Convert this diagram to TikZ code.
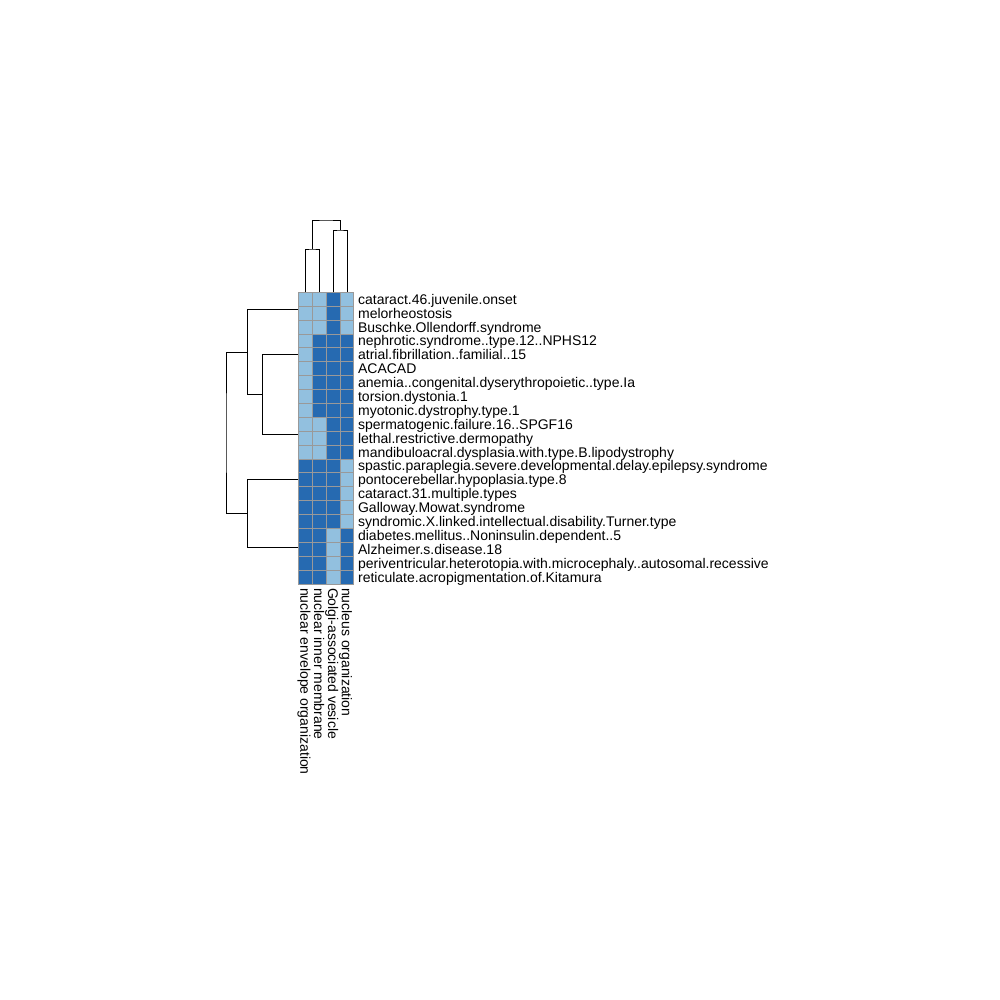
\documentclass[tikz,border=0pt]{standalone}
\usepackage{fontspec}
\setmainfont{Liberation Sans}
\usetikzlibrary{calc}

\definecolor{cLt}{RGB}{146,192,223}
\definecolor{cDk}{RGB}{38,106,177}
\definecolor{cBd}{RGB}{153,153,153}

\tikzset{
  cellbox/.style={draw=cBd,line width=0.9pt},
  dendro/.style={draw=black,line width=0.9pt},
  rowlab/.style={anchor=base west,inner sep=0pt,font=\fontsize{14}{16}\selectfont},
  collab/.style={rowlab,rotate=-90}
}

\begin{document}
\begin{tikzpicture}[x=1pt,y=-1pt]
\useasboundingbox (0,0) rectangle (1000,1000);
%heat map cells and row labels
\foreach \ca/\cb/\cc/\cd/\t [count=\r] in
{cLt/cLt/cDk/cLt/cataract.46.juvenile.onset,
    cLt/cLt/cDk/cLt/melorheostosis,
    cLt/cLt/cDk/cLt/Buschke.Ollendorff.syndrome,
    cLt/cDk/cDk/cDk/nephrotic.syndrome..type.12..NPHS12,
    cLt/cDk/cDk/cDk/atrial.fibrillation..familial..15,
    cLt/cDk/cDk/cDk/ACACAD,
    cLt/cDk/cDk/cDk/anemia..congenital.dyserythropoietic..type.Ia,
    cLt/cDk/cDk/cDk/torsion.dystonia.1,
    cLt/cDk/cDk/cDk/myotonic.dystrophy.type.1,
    cLt/cLt/cDk/cDk/spermatogenic.failure.16..SPGF16,
    cLt/cLt/cDk/cDk/lethal.restrictive.dermopathy,
    cLt/cLt/cDk/cDk/mandibuloacral.dysplasia.with.type.B.lipodystrophy,
    cDk/cDk/cDk/cLt/spastic.paraplegia.severe.developmental.delay.epilepsy.syndrome,
    cDk/cDk/cDk/cLt/pontocerebellar.hypoplasia.type.8,
    cDk/cDk/cDk/cLt/cataract.31.multiple.types,
    cDk/cDk/cDk/cLt/Galloway.Mowat.syndrome,
    cDk/cDk/cDk/cLt/syndromic.X.linked.intellectual.disability.Turner.type,
    cDk/cDk/cLt/cDk/diabetes.mellitus..Noninsulin.dependent..5,
    cDk/cDk/cLt/cDk/Alzheimer.s.disease.18,
    cDk/cDk/cLt/cDk/periventricular.heterotopia.with.microcephaly..autosomal.recessive,
    cDk/cDk/cLt/cDk/reticulate.acropigmentation.of.Kitamura
}
{
    \foreach \cf [count=\j] in {\ca,\cb,\cc,\cd}
        \draw[cellbox,fill=\cf] ({298.3+(\j-1)*13.9},{292.3+(\r-1)*13.89}) rectangle +(13.9,13.89);
    \node[rowlab] (r\r) at (357.9,{292.3+(\r-0.5)*13.89+5.0}) {\t};
};
%column labels
\foreach \t [count=\j] in
{nuclear envelope organization,
    nuclear inner membrane,
    Golgi-associated vesicle,
    nucleus organization}
{
    \node[collab] (c\j) at ({298.3+(\j-0.5)*13.9-5.0},587.8) {\t};
};
%column dendrogram
\coordinate (cC1Pt) at (305.25,292.3);
\coordinate (cC2Pt) at (319.15,292.3);
\coordinate (cC3Pt) at (333.05,292.3);
\coordinate (cC4Pt) at (346.95,292.3);
\coordinate (cC12Pt) at (312.2,249);
\coordinate (cC34Pt) at (340.0,230);
\coordinate (cCRtPt) at (326.1,220);
\draw[dendro] (cC1Pt) |- (cC12Pt) -| (cC2Pt);
\draw[dendro] (cC3Pt) |- (cC34Pt) -| (cC4Pt);
\draw[dendro] (cC12Pt) |- (cCRtPt) -| (cC34Pt);
%row dendrogram
\coordinate (cRAPt) at (298.3,309.7);
\coordinate (cRBPt) at (298.3,354.8);
\coordinate (cRCPt) at (298.3,434.7);
\coordinate (cRDPt) at (298.3,479.8);
\coordinate (cREPt) at (298.3,547.5);
\coordinate (cRBCPt) at (262.3,394.7);
\coordinate (cRABCPt) at (247.3,352.2);
\coordinate (cRDEPt) at (247.3,513.7);
\coordinate (cRRtPt) at (226,433.0);
\draw[dendro] (cRBPt) -| (cRBCPt) |- (cRCPt);
\draw[dendro] (cRAPt) -| (cRABCPt) |- (cRBCPt);
\draw[dendro] (cRDPt) -| (cRDEPt) |- (cREPt);
\draw[dendro] (cRABCPt) -| (cRRtPt) |- (cRDEPt);
\end{tikzpicture}
\end{document}
